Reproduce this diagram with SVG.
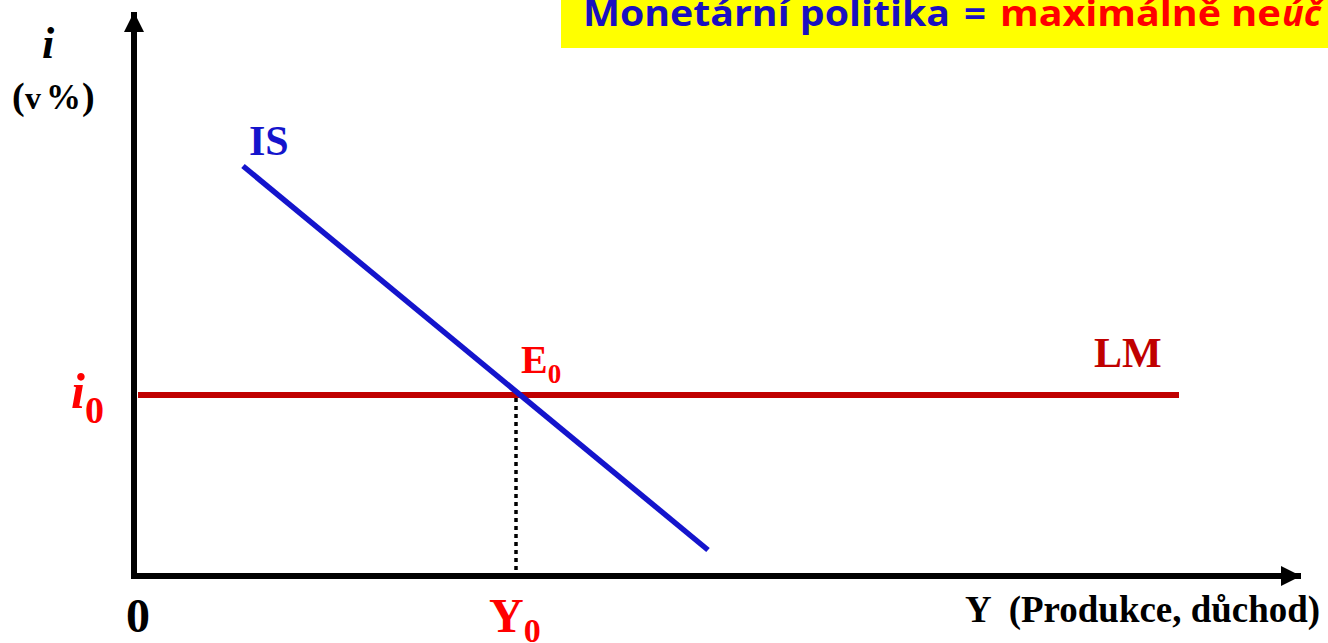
<svg xmlns="http://www.w3.org/2000/svg" width="1328" height="643" viewBox="0 0 1328 643">
<style>
.tnr{font-family:"Liberation Serif","Times New Roman",serif;font-weight:bold}
.ttl{font-family:"Open Sans","Liberation Sans",sans-serif;font-weight:bold;font-size:36px}
.axis{stroke:#000;stroke-width:6;fill:none}
</style>
<defs>
<marker id="arr" markerUnits="userSpaceOnUse" markerWidth="22" markerHeight="22" refX="20" refY="10" orient="auto" viewBox="0 0 22 20">
<path d="M0,0 L20,10 L0,20 Z" fill="#000"/>
</marker>
</defs>
<g id="title">
<rect x="561" y="0" width="767" height="48" fill="#FFFF00"/>
<text class="ttl" y="26"><tspan x="583" fill="#1A10C0" textLength="367" lengthAdjust="spacingAndGlyphs">Monetární politika</tspan><tspan x="964" fill="#1A10C0" textLength="22" lengthAdjust="spacingAndGlyphs">=</tspan><tspan x="1000" fill="#FF0000" textLength="221" lengthAdjust="spacingAndGlyphs">maximálně</tspan><tspan x="1231" fill="#FF0000" textLength="50" lengthAdjust="spacingAndGlyphs">ne</tspan><tspan x="1282" fill="#FF0000" font-style="italic">úč</tspan></text>
</g>
<g id="connectors">
<path class="axis" d="M134,579 L134,12" marker-end="url(#arr)"/>
<path class="axis" d="M131,576 L1301,576" marker-end="url(#arr)"/>
<line x1="516" y1="398" x2="516" y2="572" stroke="#000" stroke-width="3.5" stroke-dasharray="4 4"/>
<line id="LM-line" x1="138" y1="395" x2="1179" y2="395" stroke="#C00000" stroke-width="6"/>
<line id="IS-line" x1="243" y1="166" x2="708" y2="550" stroke="#1414CC" stroke-width="5.5"/>
</g>
<g id="axis-i">
<text class="tnr" x="42" y="58" font-size="44" font-style="italic">i</text>
<text class="tnr" y="109" font-size="32"><tspan x="12" font-size="38">(</tspan><tspan x="25">v</tspan><tspan x="46" font-size="35">%</tspan><tspan x="82" font-size="38">)</tspan></text>
</g>
<g id="label-IS"><text class="tnr" x="249" y="155" font-size="42" fill="#1414CC">IS</text></g>
<g id="label-LM"><text class="tnr" x="1094" y="367" font-size="42" fill="#C00000">LM</text></g>
<g id="label-E0"><text class="tnr" x="521" y="373" font-size="40" fill="#FF0000">E<tspan font-size="27" dy="10">0</tspan></text></g>
<g id="label-i0"><text class="tnr" x="71" y="408" font-size="50" font-style="italic" fill="#FF0000">i<tspan font-size="38" dy="15" font-style="normal">0</tspan></text></g>
<g id="label-origin"><text class="tnr" x="126" y="632" font-size="48">0</text></g>
<g id="label-Y0"><text class="tnr" x="489" y="632" font-size="48" fill="#FF0000">Y<tspan font-size="34" dy="10">0</tspan></text></g>
<g id="axis-Y"><text class="tnr" x="965" y="622" font-size="38" textLength="355" lengthAdjust="spacingAndGlyphs" xml:space="preserve">Y  (Produkce, důchod)</text></g>
</svg>
